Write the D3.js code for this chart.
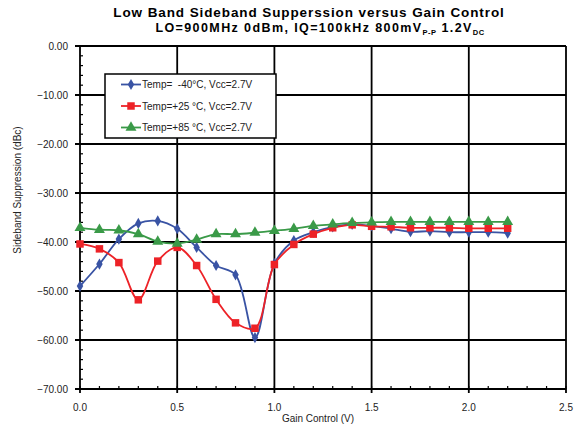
<!DOCTYPE html>
<html>
<head>
<meta charset="utf-8">
<script src="https://cdn.jsdelivr.net/npm/d3@7"></script>
<style>
  body { margin: 0; background: #fff; }
  text { font-family: "Liberation Sans", Arial, sans-serif; }
</style>
</head>
<body>
<div id="chart"></div>
<script>
// data
const gainV = [0.0, 0.1, 0.2, 0.3, 0.4, 0.5, 0.6, 0.7, 0.8, 0.9, 1.0, 1.1,
               1.2, 1.3, 1.4, 1.5, 1.6, 1.7, 1.8, 1.9, 2.0, 2.1, 2.2];
const tempM40 = [-49.0, -44.5, -39.4, -36.2, -35.7, -37.3, -41.1, -44.8, -46.7, -59.5, -44.4, -39.7,
                 -38.0, -36.9, -36.4, -36.7, -37.3, -37.9, -37.8, -38.0, -38.0, -38.0, -38.2];
const tempP25 = [-40.4, -41.4, -44.2, -51.8, -43.9, -41.1, -44.8, -51.7, -56.5, -57.6, -44.6, -40.5,
                 -38.4, -37.1, -36.5, -36.8, -36.9, -37.1, -37.1, -37.1, -37.2, -37.2, -37.2];
const tempP85 = [-37.1, -37.5, -37.6, -38.4, -39.9, -40.3, -39.5, -38.4, -38.4, -38.1, -37.7, -37.3,
                 -36.7, -36.4, -36.1, -36.0, -35.9, -35.9, -35.9, -35.9, -35.9, -35.9, -35.9];
const seriesNames = ["Temp=  -40°C, Vcc=2.7V", "Temp=+25 °C, Vcc=2.7V", "Temp=+85 °C, Vcc=2.7V"];
const seriesColors = ["#3953a4", "#ed2227", "#3a9a48"];
const xTicks = [0.0, 0.5, 1.0, 1.5, 2.0, 2.5];
const yTicks = [0, -10, -20, -30, -40, -50, -60, -70];

const width = 577, height = 428;
const margin = { top: 46, left: 80, right: 11, bottom: 39 };

const svg = d3.select("#chart").append("svg")
  .attr("width", width)
  .attr("height", height);

const x = d3.scaleLinear().domain([0, 2.5]).range([margin.left, width - margin.right]);
const y = d3.scaleLinear().domain([-70, 0]).range([height - margin.bottom, margin.top]);

// title (reference font is wider, so spread letters a bit)
svg.append("text")
  .attr("x", 309).attr("y", 17)
  .attr("text-anchor", "middle")
  .style("font-size", "13.5px").style("font-weight", "bold")
  .style("letter-spacing", "0.9px")
  .text("Low Band Sideband Supperssion versus Gain Control");

const sub = svg.append("text")
  .attr("x", 320).attr("y", 31.5)
  .attr("text-anchor", "middle")
  .style("font-size", "12.5px").style("font-weight", "bold")
  .style("letter-spacing", "1.4px");
sub.append("tspan").text("LO=900MHz 0dBm, IQ=100kHz 800mV");
sub.append("tspan").attr("dy", 3).style("font-size", "7.5px").style("letter-spacing", "0.5px").text("P-P");
sub.append("tspan").attr("dy", -3).text(" 1.2V");
sub.append("tspan").attr("dy", 3).style("font-size", "7.5px").style("letter-spacing", "0.5px").text("DC");

// minor ticks
const minorX = d3.range(0, 2.501, 0.1);
svg.append("g").selectAll("line").data(minorX).enter().append("line")
  .attr("x1", d => x(d)).attr("x2", d => x(d))
  .attr("y1", y(-70)).attr("y2", y(-70) - 3)
  .attr("stroke", "#000").attr("stroke-width", 1.2);
const minorY = d3.range(-70, 0.01, 2);
svg.append("g").selectAll("line").data(minorY).enter().append("line")
  .attr("x1", x(0)).attr("x2", x(0) + 3)
  .attr("y1", d => y(d)).attr("y2", d => y(d))
  .attr("stroke", "#000").attr("stroke-width", 1.2);

// grid
svg.append("g").selectAll("line").data(xTicks).enter().append("line")
  .attr("x1", d => x(d)).attr("x2", d => x(d))
  .attr("y1", y(0)).attr("y2", y(-70) + 4)
  .attr("stroke", "#000").attr("stroke-width", 1.8);
svg.append("g").selectAll("line").data(yTicks).enter().append("line")
  .attr("x1", x(0) - 5).attr("x2", x(2.5))
  .attr("y1", d => y(d)).attr("y2", d => y(d))
  .attr("stroke", "#000").attr("stroke-width", 1.8);

// tick labels
svg.append("g").selectAll("text").data(yTicks).enter().append("text")
  .attr("x", 68).attr("y", d => y(d) + 3.5)
  .attr("text-anchor", "end")
  .style("font-size", "10px").attr("fill", "#222")
  .text(d => d3.format(".2f")(d));
svg.append("g").selectAll("text").data(xTicks).enter().append("text")
  .attr("x", d => x(d)).attr("y", 411)
  .attr("text-anchor", "middle")
  .style("font-size", "10px").attr("fill", "#222")
  .text(d => d3.format(".1f")(d));

// axis titles
svg.append("text")
  .attr("transform", "translate(21,190) rotate(-90)")
  .attr("text-anchor", "middle")
  .style("font-size", "10px").attr("fill", "#222")
  .text("Sideband Suppression (dBc)");
svg.append("text")
  .attr("x", 318).attr("y", 422)
  .attr("text-anchor", "middle")
  .style("font-size", "10px").attr("fill", "#222")
  .text("Gain Control (V)");

// series
const allSeries = [tempM40, tempP25, tempP85];
const line = d3.line()
  .x(d => x(d[0])).y(d => y(d[1]))
  .curve(d3.curveCatmullRom.alpha(0.5));

const symbols = [d3.symbolDiamond, d3.symbolSquare, d3.symbolTriangle];
const symbolSizes = [36, 56, 52];

allSeries.forEach(function(vals, i) {
  const pts = gainV.map((g, j) => [g, vals[j]]);
  svg.append("path")
    .attr("d", line(pts))
    .attr("fill", "none")
    .attr("stroke", seriesColors[i])
    .attr("stroke-width", 1.8);
});
allSeries.forEach(function(vals, i) {
  const pts = gainV.map((g, j) => [g, vals[j]]);
  svg.append("g").selectAll("path").data(pts).enter().append("path")
    .attr("transform", d => `translate(${x(d[0])},${y(d[1])})`)
    .attr("d", d3.symbol().type(symbols[i]).size(symbolSizes[i]))
    .attr("fill", seriesColors[i]);
});

// legend
const legend = svg.append("g").attr("transform", "translate(105,74)");
legend.append("rect")
  .attr("width", 171).attr("height", 64)
  .attr("fill", "#fff").attr("stroke", "#000").attr("stroke-width", 1.5);
seriesNames.forEach(function(name, i) {
  const ly = 10.5 + i * 21.5;
  legend.append("line")
    .attr("x1", 16).attr("x2", 36).attr("y1", ly).attr("y2", ly)
    .attr("stroke", seriesColors[i]).attr("stroke-width", 1.8);
  legend.append("path")
    .attr("transform", `translate(26,${ly})`)
    .attr("d", d3.symbol().type(symbols[i]).size(symbolSizes[i]))
    .attr("fill", seriesColors[i]);
  legend.append("text")
    .attr("x", 37).attr("y", ly + 3.5)
    .style("font-size", "10px").attr("fill", "#222")
    .style("white-space", "pre")
    .text(name);
});
</script>
</body>
</html>
